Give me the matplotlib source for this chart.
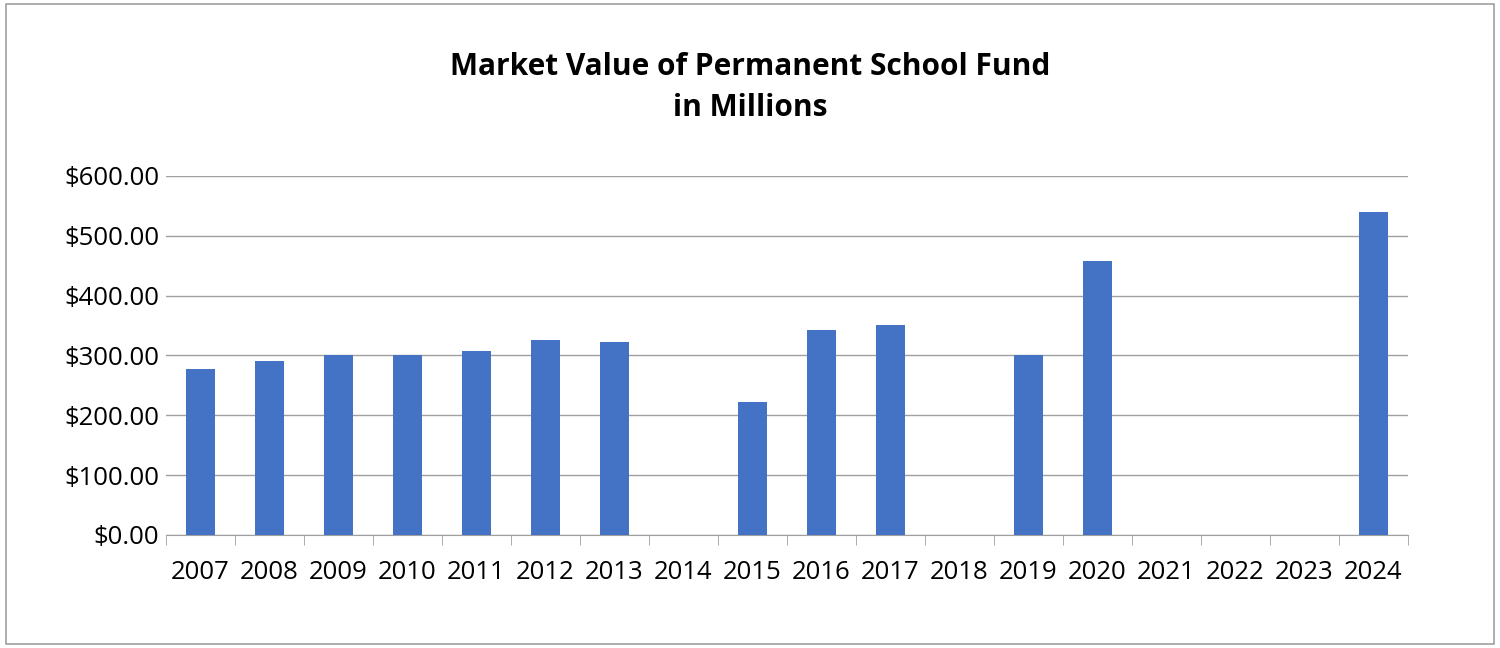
import matplotlib
matplotlib.use("Agg")
import matplotlib.pyplot as plt
import numpy as np
from matplotlib.patches import Rectangle

years = ["2007","2008","2009","2010","2011","2012","2013","2014","2015","2016","2017","2018","2019","2020","2021","2022","2023","2024"]
values = [278, 291, 301, 301, 308, 326, 323, 0, 222, 343, 351, 0, 301, 458, 0, 0, 0, 540]

plt.rcParams['font.family'] = ['Open Sans', 'DejaVu Sans']
fig = plt.figure(figsize=(15, 6.48), dpi=100)
fig.patches.append(Rectangle((0.004, 0.006), 0.992, 0.988, transform=fig.transFigure,
                             fill=False, edgecolor='#a0a0a0', linewidth=1.2))
ax = fig.add_axes([0.1107, 0.1744, 0.828, 0.554])
x = np.arange(len(years))
ax.bar(x, values, width=0.41, color='#4472C4', zorder=3)
ax.set_xlim(-0.5, len(years) - 0.5)
ax.set_ylim(0, 600)
ax.set_yticks(np.arange(0, 601, 100))
ax.set_yticklabels([f"${v:.2f}" for v in range(0, 601, 100)], fontsize=18.5)
ax.set_xticks(x)
ax.set_xticklabels(years, fontsize=18.5)
ax.set_xticks(np.arange(-0.5, len(years), 1), minor=True)
ax.tick_params(axis='x', which='major', length=0, pad=18)
ax.tick_params(axis='x', which='minor', length=7, color='#a0a0a0')
ax.tick_params(axis='y', length=0, pad=5)
ax.grid(axis='y', color='#a0a0a0', linewidth=1, zorder=0)
for s in ['top', 'right', 'left']:
    ax.spines[s].set_visible(False)
ax.spines['bottom'].set_color('#a0a0a0')
fig.text(0.5, 0.865, "Market Value of Permanent School Fund\nin Millions", ha='center', va='center',
         fontsize=21.5, fontweight='bold', linespacing=1.45)
fig.savefig("out.png", dpi=100)
